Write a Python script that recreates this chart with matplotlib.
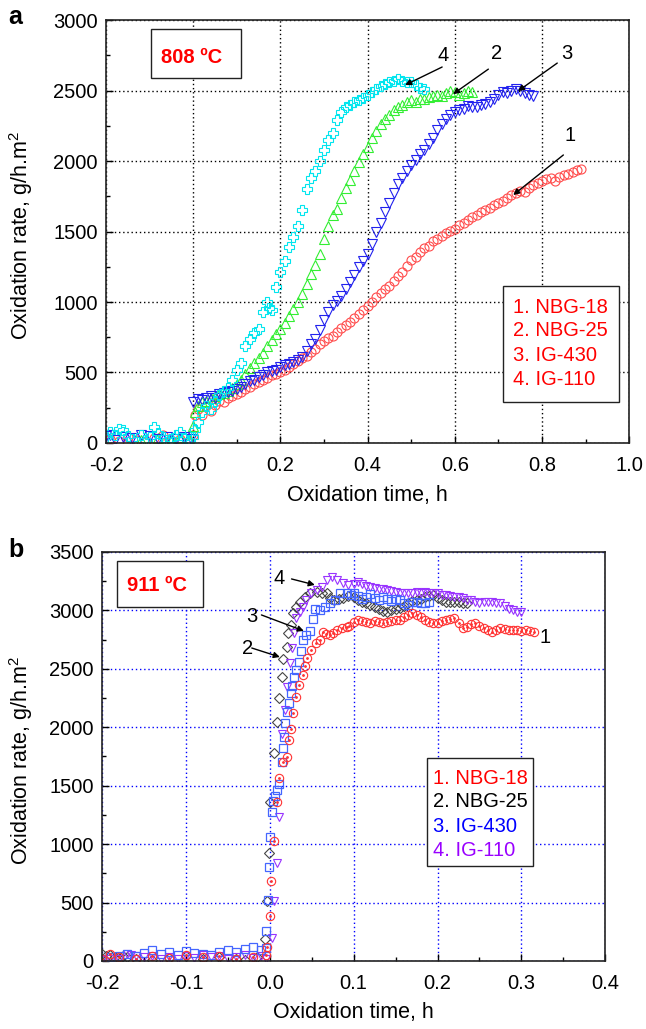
import matplotlib
matplotlib.use('Agg')
import matplotlib.pyplot as plt
from matplotlib.patches import Rectangle
from matplotlib.ticker import MultipleLocator

plt.rcParams['font.family'] = ['Liberation Sans', 'DejaVu Sans']
plt.rcParams['mathtext.fontset'] = 'custom'
plt.rcParams['mathtext.rm'] = 'Liberation Sans'
plt.rcParams['mathtext.it'] = 'Liberation Sans:italic'

# ---------------- panel a: 808 C ----------------
a_labels = ['1. NBG-18', '2. NBG-25', '3. IG-430', '4. IG-110']

a_t1 = [-0.19, -0.17, -0.15, -0.13, -0.11, -0.09, -0.07, -0.05, -0.03, -0.01,
        0.0, 0.005, 0.01, 0.02, 0.03, 0.04, 0.05, 0.06, 0.07, 0.08, 0.09, 0.10,
        0.11, 0.12, 0.13, 0.14, 0.15, 0.16, 0.17, 0.18, 0.19, 0.20, 0.21, 0.22,
        0.23, 0.24, 0.25, 0.26, 0.27, 0.28, 0.29, 0.30, 0.31, 0.32, 0.33, 0.34,
        0.35, 0.36, 0.37, 0.38, 0.39, 0.40, 0.41, 0.42, 0.43, 0.44, 0.45, 0.46,
        0.47, 0.48, 0.49, 0.50, 0.51, 0.52, 0.53, 0.54, 0.55, 0.56, 0.57, 0.58,
        0.59, 0.60, 0.61, 0.62, 0.63, 0.64, 0.65, 0.66, 0.67, 0.68, 0.69, 0.70,
        0.71, 0.72, 0.73, 0.74, 0.75, 0.76, 0.77, 0.78, 0.79, 0.80, 0.81, 0.82,
        0.83, 0.84, 0.85, 0.86, 0.87, 0.88, 0.89]
a_y1 = [30, 15, 40, 20, 10, 35, 55, 20, 30, 15,
        60, 200, 240, 200, 260, 230, 270, 300, 290, 320, 330, 350,
        360, 380, 400, 420, 430, 450, 460, 480, 490, 500, 520, 540,
        560, 580, 600, 620, 645, 670, 700, 725, 745, 760, 790, 815,
        840, 860, 885, 915, 945, 975, 1000, 1035, 1065, 1090, 1115, 1150,
        1185, 1215, 1255, 1295, 1320, 1355, 1385, 1400, 1430, 1450, 1465, 1490,
        1505, 1520, 1545, 1560, 1580, 1600, 1620, 1640, 1650, 1670, 1690, 1700,
        1720, 1740, 1760, 1770, 1790, 1780, 1810, 1830, 1845, 1855, 1870, 1880,
        1860, 1890, 1900, 1910, 1925, 1935, 1945]

a_t2 = [-0.12, -0.08, -0.05, -0.03, -0.01,
        0.0, 0.005, 0.01, 0.02, 0.03, 0.04, 0.05, 0.06, 0.07, 0.08, 0.09, 0.10,
        0.11, 0.12, 0.13, 0.14, 0.15, 0.16, 0.17, 0.18, 0.19, 0.20, 0.21, 0.22,
        0.23, 0.24, 0.25, 0.26, 0.27, 0.28, 0.29, 0.30, 0.31, 0.32, 0.33, 0.34,
        0.35, 0.36, 0.37, 0.38, 0.39, 0.40, 0.41, 0.42, 0.43, 0.44, 0.45, 0.46,
        0.47, 0.48, 0.49, 0.50, 0.51, 0.52, 0.53, 0.54, 0.55, 0.56, 0.57, 0.58,
        0.59, 0.60, 0.61, 0.62, 0.63, 0.64]
a_y2 = [20, 35, 15, 40, 25,
        120, 220, 260, 290, 300, 320, 335, 345, 355, 370, 390, 420,
        450, 490, 530, 565, 600, 640, 685, 730, 775, 810, 850, 900,
        950, 1000, 1060, 1130, 1200, 1260, 1340, 1450, 1540, 1620, 1660, 1740,
        1810, 1865, 1930, 1990, 2050, 2100, 2160, 2210, 2260, 2300, 2330, 2360,
        2385, 2400, 2420, 2430, 2420, 2440, 2440, 2455, 2460, 2470, 2460, 2480,
        2500, 2490, 2470, 2480, 2500, 2490]

a_t3 = [-0.20, -0.19, -0.18, -0.16, -0.14, -0.12, -0.10, -0.08, -0.06, -0.04,
        -0.02, -0.005,
        0.0, 0.01, 0.02, 0.03, 0.04, 0.05, 0.06, 0.07, 0.08, 0.09, 0.10,
        0.11, 0.12, 0.13, 0.14, 0.15, 0.16, 0.17, 0.18, 0.19, 0.20, 0.21, 0.22,
        0.23, 0.24, 0.25, 0.26, 0.27, 0.28, 0.29, 0.30, 0.31, 0.32, 0.33, 0.34,
        0.35, 0.36, 0.37, 0.38, 0.39, 0.40, 0.41, 0.42, 0.43, 0.44, 0.45, 0.46,
        0.47, 0.48, 0.49, 0.50, 0.51, 0.52, 0.53, 0.54, 0.55, 0.56, 0.57, 0.58,
        0.59, 0.60, 0.61, 0.62, 0.63, 0.64, 0.65, 0.66, 0.67, 0.68, 0.69, 0.70,
        0.71, 0.72, 0.73, 0.74, 0.75, 0.76, 0.77, 0.78]
a_y3 = [50, 60, 20, 40, 35, 55, 50, 30, 45, 25,
        40, 30,
        290, 310, 305, 320, 330, 320, 345, 355, 360, 370, 385,
        400, 420, 440, 450, 465, 480, 500, 510, 520, 540, 550, 560,
        575, 590, 610, 650, 700, 740, 800, 870, 930, 980, 1010, 1040,
        1090, 1140, 1190, 1250, 1290, 1340, 1410, 1500, 1560, 1640, 1700, 1770,
        1840, 1880, 1930, 1970, 2010, 2050, 2080, 2120, 2160, 2220, 2260, 2300,
        2330, 2350, 2360, 2370, 2390, 2380, 2385, 2400, 2405, 2420, 2440, 2470,
        2490, 2480, 2500, 2510, 2500, 2480, 2470, 2460]

a_t4 = [-0.20, -0.19, -0.18, -0.17, -0.16, -0.15, -0.14, -0.12, -0.11, -0.10,
        -0.09, -0.08, -0.07, -0.06, -0.05, -0.04, -0.03, -0.02, -0.01, 0.0,
        0.005, 0.01, 0.02, 0.03, 0.04, 0.05, 0.06, 0.07, 0.08, 0.09, 0.10,
        0.11, 0.12, 0.13, 0.14, 0.15, 0.16, 0.17, 0.175, 0.18, 0.19, 0.20,
        0.21, 0.22, 0.23, 0.24, 0.25, 0.26, 0.27, 0.28, 0.29, 0.30, 0.31,
        0.32, 0.33, 0.34, 0.35, 0.36, 0.37, 0.38, 0.39, 0.40, 0.41, 0.42,
        0.43, 0.44, 0.45, 0.46, 0.47, 0.48, 0.49, 0.50, 0.51, 0.52, 0.53]
a_y4 = [40, 80, 60, 100, 90, 50, 30, 60, 20, 45,
        110, 70, 40, 20, 30, 55, 80, 35, 20, 40,
        90, 150, 220, 260, 240, 300, 340, 370, 390, 450, 520,
        570, 690, 740, 780, 810, 930, 1000, 960, 940, 1110, 1210,
        1290, 1390, 1460, 1540, 1650, 1800, 1880, 1930, 2000, 2080, 2150,
        2200, 2290, 2350, 2380, 2400, 2420, 2430, 2450, 2470, 2490, 2510,
        2530, 2550, 2560, 2570, 2580, 2570, 2560, 2560, 2540, 2520, 2510]

# ---------------- panel b: 911 C ----------------
b_labels = ['1. NBG-18', '2. NBG-25', '3. IG-430', '4. IG-110']

b_t1 = [-0.20, -0.19, -0.18, -0.16, -0.14, -0.12, -0.10, -0.08, -0.06, -0.04,
        -0.02, -0.005, -0.003, 0.0, 0.002, 0.0048, 0.008, 0.011, 0.016, 0.02,
        0.0227, 0.0247, 0.0278, 0.031, 0.035, 0.039, 0.0418, 0.0446, 0.0497,
        0.0549, 0.0597, 0.0636, 0.0675, 0.0716, 0.0756, 0.0804, 0.0855, 0.0915,
        0.095, 0.10, 0.105, 0.11, 0.115, 0.12, 0.125, 0.13, 0.135, 0.14, 0.145,
        0.15, 0.155, 0.16, 0.165, 0.17, 0.175, 0.18, 0.185, 0.19, 0.195, 0.20,
        0.205, 0.21, 0.215, 0.22, 0.225, 0.23, 0.235, 0.24, 0.245, 0.25, 0.255,
        0.26, 0.265, 0.27, 0.275, 0.28, 0.285, 0.29, 0.295, 0.30, 0.305, 0.31,
        0.315]
b_y1 = [20, 60, 30, 15, 40, 25, 50, 30, 40, 20,
        35, 50, 117, 388, 687, 1030, 1363, 1566, 1706, 1743,
        1891, 1985, 2119, 2262, 2362, 2447, 2527, 2590, 2661,
        2719, 2747, 2818, 2800, 2790, 2809, 2832, 2850, 2861,
        2870, 2900, 2918, 2905, 2900, 2895, 2905, 2900, 2890, 2900, 2905,
        2915, 2920, 2940, 2960, 2978, 2960, 2944, 2920, 2900, 2892, 2895,
        2910, 2918, 2930, 2935, 2890, 2850, 2860, 2880, 2892, 2870, 2850,
        2830, 2815, 2830, 2850, 2840, 2830, 2832, 2830, 2825, 2830, 2820,
        2815]

b_t2 = [-0.20, -0.195, -0.19, -0.185, -0.18, -0.175, -0.17, -0.16, -0.14, -0.12,
        -0.10, -0.08, -0.06, -0.04, -0.03, -0.015, -0.006, -0.003, -0.001, 0.0,
        0.0048, 0.008, 0.011, 0.014, 0.016, 0.02, 0.022, 0.0247, 0.0278, 0.0318,
        0.0358, 0.0418, 0.0477, 0.0557, 0.0617, 0.0676, 0.072, 0.077, 0.082,
        0.087, 0.093, 0.10, 0.105, 0.11, 0.115, 0.12, 0.125, 0.13, 0.135, 0.14,
        0.145, 0.15, 0.155, 0.16, 0.165, 0.17, 0.175, 0.18, 0.185, 0.19, 0.195,
        0.20, 0.205, 0.21, 0.215, 0.22, 0.225, 0.23, 0.235]
b_y2 = [60, 40, 55, 30, 20, 45, 30, 20, 10, 25,
        40, 15, 30, 20, 10, 35, 188, 516, 921, 1363,
        1777, 2048, 2248, 2433, 2584, 2690, 2804, 2875, 2975, 3032,
        3075, 3118, 3146, 3160, 3146, 3146, 3110, 3085, 3095,
        3110, 3120, 3115, 3090, 3070, 3063, 3045, 3030, 3015, 2995, 2987,
        3000, 3015, 3021, 3040, 3060, 3080, 3089, 3100, 3115, 3125, 3132,
        3110, 3090, 3072, 3070, 3075, 3068, 3063, 3065]

b_t3 = [-0.20, -0.19, -0.18, -0.17, -0.16, -0.15, -0.14, -0.13, -0.12, -0.11,
        -0.10, -0.09, -0.08, -0.07, -0.06, -0.05, -0.04, -0.03, -0.02, -0.01,
        -0.005, -0.004, -0.002, -0.0008, 0.0008, 0.0024, 0.004, 0.006, 0.0087,
        0.011, 0.0147, 0.016, 0.0175, 0.0187, 0.02, 0.023, 0.0247, 0.0267,
        0.029, 0.0318, 0.0346, 0.037, 0.04, 0.0437, 0.0477, 0.051, 0.0537,
        0.06, 0.0656, 0.0716, 0.0776, 0.0835, 0.0915, 0.097, 0.10, 0.105,
        0.11, 0.115, 0.12, 0.125, 0.13, 0.135, 0.14, 0.145, 0.15, 0.155, 0.16,
        0.165, 0.17, 0.175, 0.18, 0.185, 0.19]
b_y3 = [20, 30, 45, 60, 40, 70, 95, 60, 75, 55,
        85, 70, 60, 50, 75, 90, 80, 100, 120, 90,
        110, 259, 522, 807, 1064, 1278, 1372, 1412, 1463,
        1515, 1706, 1825, 1919, 2034, 2133, 2205, 2291, 2353,
        2428, 2490, 2559, 2655, 2747, 2790, 2827, 2924, 3010,
        3004, 3032, 3061, 3089, 3149, 3146, 3130, 3149, 3120,
        3100, 3115, 3140, 3110, 3090, 3115, 3100, 3080, 3095, 3089, 3060,
        3050, 3070, 3072, 3060, 3063, 3070]

b_t4 = [-0.20, -0.19, -0.18, -0.17, -0.165, -0.16, -0.15, -0.14, -0.13, -0.12,
        -0.11, -0.10, -0.09, -0.08, -0.07, -0.06, -0.05, -0.04, -0.03, -0.02,
        -0.01, -0.005, 0.0024, 0.0048, 0.008, 0.0104, 0.0147, 0.0179, 0.0207,
        0.0239, 0.0267, 0.029, 0.0318, 0.0358, 0.0398, 0.0437, 0.0497, 0.0557,
        0.0617, 0.0676, 0.0736, 0.0796, 0.0875, 0.0935, 0.10, 0.105, 0.11,
        0.115, 0.12, 0.125, 0.13, 0.135, 0.14, 0.145, 0.15, 0.155, 0.16, 0.165,
        0.17, 0.175, 0.18, 0.185, 0.19, 0.195, 0.20, 0.205, 0.21, 0.215, 0.22,
        0.225, 0.23, 0.235, 0.24, 0.245, 0.25, 0.255, 0.26, 0.265, 0.27, 0.275,
        0.28, 0.285, 0.29, 0.295, 0.30]
b_y4 = [10, 20, 15, 60, 55, 40, 30, 45, 20, 35,
        15, 40, 25, 50, 35, 45, 20, 30, 55, 25,
        40, 15, 194, 516, 836, 1230, 1943, 2148, 2348,
        2548, 2676, 2809, 2933, 2990, 3032, 3089, 3146, 3175,
        3203, 3260, 3289, 3260, 3232, 3218, 3230, 3240, 3225,
        3210, 3200, 3195, 3185, 3180, 3175, 3165, 3160, 3150, 3150, 3145,
        3150, 3155, 3150, 3160, 3150, 3145, 3150, 3135, 3130, 3120, 3115,
        3115, 3105, 3090, 3085, 3072, 3065, 3075, 3072, 3070, 3065, 3060,
        3040, 3010, 3000, 2990, 2985]

FS = 14.5
LFS = 15.5

fig = plt.figure(figsize=(6.46, 10.29), dpi=100)
ax1 = fig.add_axes([0.164, 0.5695, 0.810, 0.411])
ax2 = fig.add_axes([0.158, 0.0661, 0.779, 0.3975])


def style_axes(ax, gridcolor):
    ax.grid(True, which='major', color=gridcolor, linestyle=(0, (1, 2)), linewidth=1.0)
    ax.set_axisbelow(True)
    ax.tick_params(which='both', direction='in', labelsize=FS, top=False, right=False)
    ax.tick_params(which='major', length=5, width=1.0)
    ax.tick_params(axis='x', which='major', pad=9.5)
    ax.tick_params(axis='y', which='major', pad=6)
    ax.tick_params(which='minor', length=3, width=1.0)
    for s in ax.spines.values():
        s.set_linewidth(1.2)
        s.set_color('#222222')


# panel a
ax = ax1
ax.plot(a_t1, a_y1, ls='none', marker='o', mfc='none', mec='#ff4d4d', ms=6.5, mew=0.8)
ax.plot(a_t2, a_y2, ls='none', marker='^', mfc='none', mec='#33ee33', ms=6.5, mew=0.8)
ax.plot(a_t3, a_y3, ls='none', marker='v', mfc='none', mec='#2222ee', ms=6.5, mew=0.8)
ax.plot(a_t4, a_y4, ls='none', marker='P', mfc='none', mec='#00e5ee', ms=7, mew=0.8)
ax.set_xlim(-0.2, 1.0)
ax.set_ylim(0, 3000)
ax.xaxis.set_major_locator(MultipleLocator(0.2))
ax.xaxis.set_minor_locator(MultipleLocator(0.1))
ax.yaxis.set_major_locator(MultipleLocator(500))
ax.yaxis.set_minor_locator(MultipleLocator(250))
ax.xaxis.set_major_formatter(matplotlib.ticker.FormatStrFormatter('%.1f'))
style_axes(ax, 'black')
ax.set_xlabel('Oxidation time, h', fontsize=LFS)
ax.set_ylabel('Oxidation rate, g/h.m$^2$', fontsize=LFS)
ax.xaxis.set_label_coords(0.5, -0.1)
ax.yaxis.set_label_coords(-0.136, 0.49)

ax.add_patch(Rectangle((0.086, 0.863), 0.172, 0.116, transform=ax.transAxes,
                       fill=True, facecolor='white', edgecolor='#222222', lw=1.0, zorder=5))
ax.text(0.105, 0.9125, '808 ºC', transform=ax.transAxes, color='#ff0000',
        fontsize=FS, fontweight='bold', va='center', ha='left', zorder=6)
ax.add_patch(Rectangle((0.759, 0.097), 0.222, 0.274, transform=ax.transAxes,
                       fill=True, facecolor='white', edgecolor='#222222', lw=1.0, zorder=5))
for lab, yy in zip(a_labels, [0.3215, 0.2648, 0.208, 0.149]):
    ax.text(0.778, yy, lab, transform=ax.transAxes, color='#ff0000',
            fontsize=FS, va='center', ha='left', zorder=6)

arrows_a = [('4', (0.573, 2752), (0.571, 2667), (0.486, 2539)),
            ('2', (0.695, 2766), (0.677, 2652), (0.596, 2475)),
            ('3', (0.858, 2766), (0.835, 2695), (0.745, 2496)),
            ('1', (0.865, 2184), (0.849, 2043), (0.734, 1759))]
for lab, tp, tail, head in arrows_a:
    ax.text(tp[0], tp[1], lab, fontsize=FS, ha='center', va='center', zorder=7)
    ax.annotate('', xy=head, xytext=tail,
                arrowprops=dict(arrowstyle='-|>', color='black', lw=1.0,
                                mutation_scale=9, shrinkA=0, shrinkB=0), zorder=7)

# panel b
ax = ax2
ax.plot(b_t2, b_y2, ls='none', marker='D', mfc='none', mec='#444444', ms=5, mew=0.8)
ax.plot(b_t4, b_y4, ls='none', marker='v', mfc='none', mec='#9933ff', ms=6, mew=0.8)
ax.plot(b_t3, b_y3, ls='none', marker='s', mfc='none', mec='#4466ff', ms=6, mew=0.9)
ax.plot(b_t1, b_y1, ls='none', marker='o', mfc='none', mec='#ff3333', ms=6, mew=0.8)
ax.plot(b_t1, b_y1, ls='none', marker='.', color='#ff3333', ms=2)
ax.set_xlim(-0.2, 0.4)
ax.set_ylim(0, 3500)
ax.xaxis.set_major_locator(MultipleLocator(0.1))
ax.xaxis.set_minor_locator(MultipleLocator(0.05))
ax.yaxis.set_major_locator(MultipleLocator(500))
ax.yaxis.set_minor_locator(MultipleLocator(250))
ax.xaxis.set_major_formatter(matplotlib.ticker.FormatStrFormatter('%.1f'))
style_axes(ax, '#0000ff')
ax.set_xlabel('Oxidation time, h', fontsize=LFS)
ax.set_ylabel('Oxidation rate, g/h.m$^2$', fontsize=LFS)
ax.xaxis.set_label_coords(0.5, -0.1)
ax.yaxis.set_label_coords(-0.133, 0.49)

ax.add_patch(Rectangle((0.03, 0.866), 0.17, 0.112, transform=ax.transAxes,
                       fill=True, facecolor='white', edgecolor='#222222', lw=1.0, zorder=5))
ax.text(0.0497, 0.917, '911 ºC', transform=ax.transAxes, color='#ff0000',
        fontsize=FS, fontweight='bold', va='center', ha='left', zorder=6)
ax.add_patch(Rectangle((0.646, 0.232), 0.211, 0.264, transform=ax.transAxes,
                       fill=True, facecolor='white', edgecolor='#222222', lw=1.0, zorder=5))
for lab, yy, c in zip(b_labels, [0.447, 0.389, 0.328, 0.271],
                      ['#ff0000', '#000000', '#0000ff', '#9900ff']):
    ax.text(0.658, yy, lab, transform=ax.transAxes, color=c,
            fontsize=FS, va='center', ha='left', zorder=6)

arrows_b = [('4', (0.0107, 3277), (0.0259, 3269), (0.0537, 3218)),
            ('3', (-0.0215, 2944), (-0.01, 2961), (0.0406, 2824)),
            ('2', (-0.027, 2670), (-0.0215, 2678), (0.012, 2601))]
for lab, tp, tail, head in arrows_b:
    ax.text(tp[0], tp[1], lab, fontsize=FS, ha='center', va='center', zorder=7)
    ax.annotate('', xy=head, xytext=tail,
                arrowprops=dict(arrowstyle='-|>', color='black', lw=1.0,
                                mutation_scale=9, shrinkA=0, shrinkB=0), zorder=7)
ax.text(0.328, 2772, '1', fontsize=FS, ha='center', va='center', zorder=7)

fig.text(0.023, 0.9835, 'a', fontsize=18, fontweight='bold', ha='center', va='center')
fig.text(0.025, 0.4655, 'b', fontsize=18, fontweight='bold', ha='center', va='center')

fig.savefig('out.png', dpi=100)
